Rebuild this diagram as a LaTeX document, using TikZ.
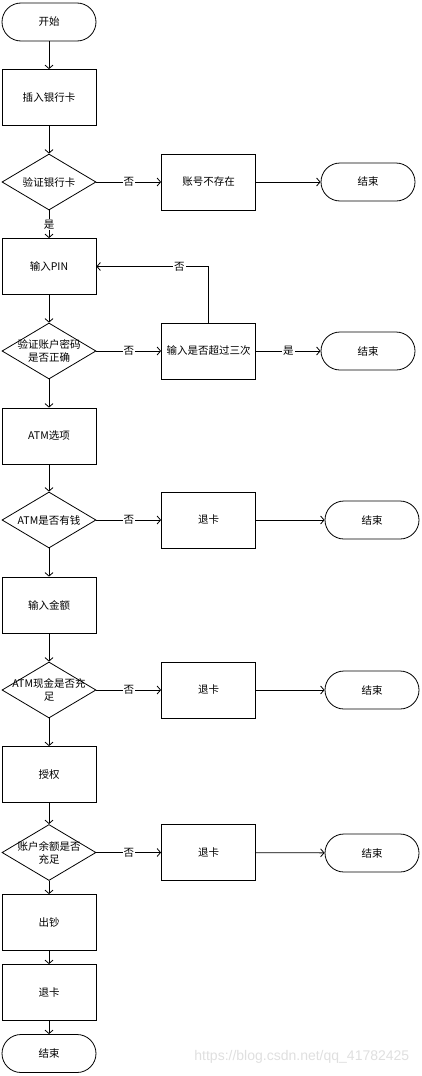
\documentclass[tikz,border=0pt]{standalone}
\usepackage{fontspec}
\setmainfont{Noto Sans CJK SC}
\newfontfamily\wmfont{Liberation Sans}
\usetikzlibrary{shapes.geometric,arrows.meta}

\newcommand*{\leftx}{49}
\newcommand*{\midx}{208.5}
\newcommand*{\rightx}{372}

\begin{document}
\begin{tikzpicture}
[
	x=1pt,y=-1pt,
	font=\fontsize{10.5}{13}\selectfont,
	line width=0.8pt,
	>={Straight Barb[length=3.5pt,width=8pt]},
	startstop/.style={rectangle,draw,rounded corners=19pt,minimum width=94pt,minimum height=38pt,inner sep=0pt},
	procbox/.style={rectangle,draw,minimum width=94pt,minimum height=56pt,inner sep=0pt},
	decbox/.style={diamond,draw,minimum width=94pt,minimum height=56pt,inner sep=0pt},
	answer/.style={fill=white,inner sep=1pt}
]
	\useasboundingbox (0,0) rectangle (421,1076);

	% main column
	\node[startstop] (start) at (\leftx,22) {开始};
	\node[procbox] (insert) at (\leftx,97.5) {插入银行卡};
	\node[decbox,label=center:验证银行卡] (checkcard) at (\leftx,182) {};
	\node[procbox] (pin) at (\leftx,266.5) {输入PIN};
	\node[decbox,label={[align=center]center:验证账户密码\\是否正确}] (checkpin) at (\leftx,351) {};
	\node[procbox] (menu) at (\leftx,436) {ATM选项};
	\node[decbox,label=center:ATM是否有钱] (atmmoney) at (\leftx,520) {};
	\node[procbox] (amount) at (\leftx,605) {输入金额};
	\node[decbox,label={[align=center]center:ATM现金是否充\\足}] (atmcash) at (\leftx,690) {};
	\node[procbox] (auth) at (\leftx,774.5) {授权};
	\node[decbox,label={[align=center]center:账户余额是否\\充足}] (balance) at (\leftx,852.5) {};
	\node[procbox] (cash) at (\leftx,922.5) {出钞};
	\node[procbox] (eject) at (\leftx,992.5) {退卡};
	\node[startstop] (stop) at (\leftx,1053.5) {结束};

	% side branches
	\node[procbox] (nocard) at (\midx,182) {账号不存在};
	\node[startstop] (endA) at (368,182) {结束};
	\node[procbox] (tries) at (\midx,351) {输入是否超过三次};
	\node[startstop] (endB) at (368,351) {结束};
	\node[procbox] (ejectA) at (\midx,520) {退卡};
	\node[startstop] (endC) at (\rightx,520) {结束};
	\node[procbox] (ejectB) at (\midx,690) {退卡};
	\node[startstop] (endD) at (\rightx,690) {结束};
	\node[procbox] (ejectC) at (\midx,852.5) {退卡};
	\node[startstop] (endE) at (\rightx,853) {结束};

	\foreach \a/\b in {start/insert,insert/checkcard,pin/checkpin,checkpin/menu,menu/atmmoney,
		atmmoney/amount,amount/atmcash,atmcash/auth,auth/balance,balance/cash,cash/eject,eject/stop}
		\draw[->] (\a) -- (\b);

	\draw[->] (checkcard) -- node[answer] {是} (pin);

	\foreach \a/\b/\c in {checkcard/nocard/endA,atmmoney/ejectA/endC,atmcash/ejectB/endD,balance/ejectC/endE}
	{
		\draw[->] (\a) -- node[answer] {否} (\b);
		\draw[->] (\b) -- (\c);
	}

	\draw[->] (checkpin) -- node[answer] {否} (tries);
	\draw[->] (tries) -- node[answer] {是} (endB);
	\draw[->] (tries.north) |- node[answer,pos=0.63] {否} (pin.east);

	\node[text=gray!25,font=\wmfont\fontsize{14}{14}\selectfont,anchor=east] (mark) at (413,1057) {https://blog.csdn.net/qq\_41782425};

\end{tikzpicture}
\end{document}
